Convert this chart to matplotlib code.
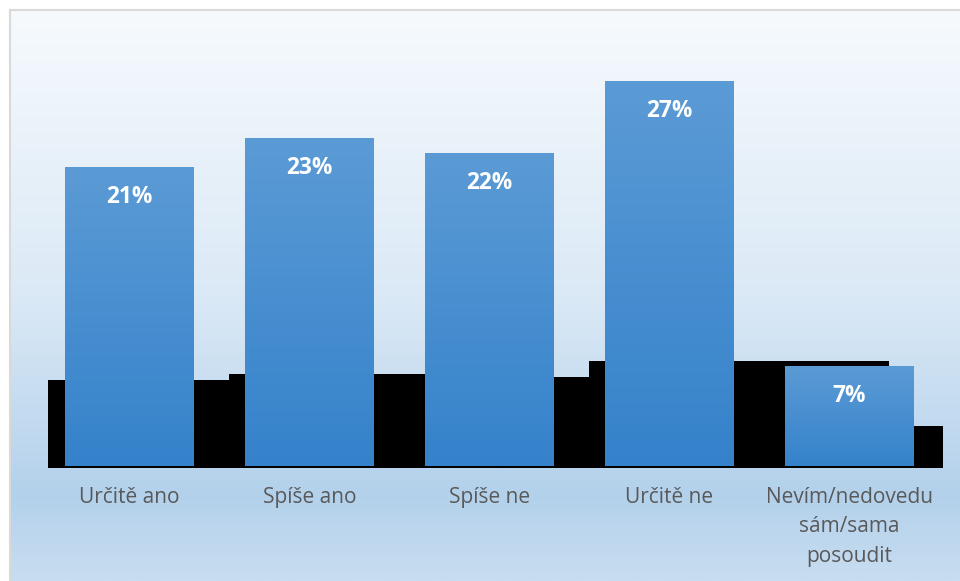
import numpy as np
import matplotlib.pyplot as plt
from matplotlib.colors import LinearSegmentedColormap
from matplotlib.patches import Rectangle

plt.rcParams['font.family'] = ['Open Sans', 'DejaVu Sans']

categories = ['Určitě ano', 'Spíše ano', 'Spíše ne', 'Určitě ne',
              'Nevím/nedovedu\nsám/sama\nposoudit']
shares = [21, 23, 22, 27, 7]

# dark blocks sitting behind the bars: step edges and their heights
shadow_edges = [-0.453, 0.553, 1.642, 2.553, 4.219, 4.519]
shadow_heights = [6.04, 6.46, 6.25, 7.37, 2.81]

W, H = 960, 581
fig = plt.figure(figsize=(W / 100, H / 100), dpi=100)
fig.patch.set_facecolor('white')

# chart area background gradient
bg = fig.add_axes([10 / W, 0, 950 / W, 571 / H], zorder=0)
bg_cmap = LinearSegmentedColormap.from_list(
    'bg', [(0.0, '#f6fafd'), (0.5, '#dbe9f6'), (0.85, '#b3d1eb'), (1.0, '#c8ddf1')])
bg.imshow(np.linspace(0, 1, 256).reshape(-1, 1), aspect='auto', cmap=bg_cmap,
          extent=[0, 1, 0, 1], origin='upper')
bg.set_xlim(0, 1)
bg.set_ylim(0, 1)
bg.set_axis_off()
fig.add_artist(plt.Line2D([10 / W, 1], [1 - 10 / H, 1 - 10 / H], color='#d9d9d9', lw=1.5))
fig.add_artist(plt.Line2D([10 / W, 10 / W], [0, 1 - 10 / H], color='#d9d9d9', lw=1.5))

ax = fig.add_axes([10 / W, (H - 468) / H, 950 / W, 458 / H], zorder=1)
ax.patch.set_alpha(0)
ax.set_xlim(-0.664, 4.614)
ax.set_ylim(-0.14, 32.02)
ax.set_axis_off()

for i in range(len(shadow_heights)):
    ax.add_patch(Rectangle((shadow_edges[i], -0.14),
                           shadow_edges[i + 1] - shadow_edges[i],
                           shadow_heights[i] + 0.14,
                           facecolor='black', edgecolor='none', zorder=1))

bar_cmap = LinearSegmentedColormap.from_list('bar', ['#5b9bd5', '#3582cb'])
grad = np.linspace(0, 1, 128).reshape(-1, 1)
width = 129 / 180
bars = ax.bar(range(len(shares)), shares, width=width, color='none', zorder=2)
for b, v in zip(bars, shares):
    x0, w, h = b.get_x(), b.get_width(), b.get_height()
    im = ax.imshow(grad, aspect='auto', cmap=bar_cmap, origin='upper',
                   extent=[x0, x0 + w, 0, h], zorder=2)
    im.set_clip_path(b)
    ax.annotate(f'{v}%', xy=(x0 + w / 2, h), xytext=(0, -30),
                textcoords='offset pixels', ha='center', va='center',
                color='white', fontsize=16.3, fontweight='bold', zorder=3)

for i, lab in enumerate(categories):
    ax.annotate(lab, xy=(i, 0), xycoords=('data', 'axes fraction'),
                xytext=(0, -19), textcoords='offset pixels', ha='center',
                va='top', color='#595959', fontsize=15, linespacing=1.52)

fig.savefig('out.png', dpi=100)
